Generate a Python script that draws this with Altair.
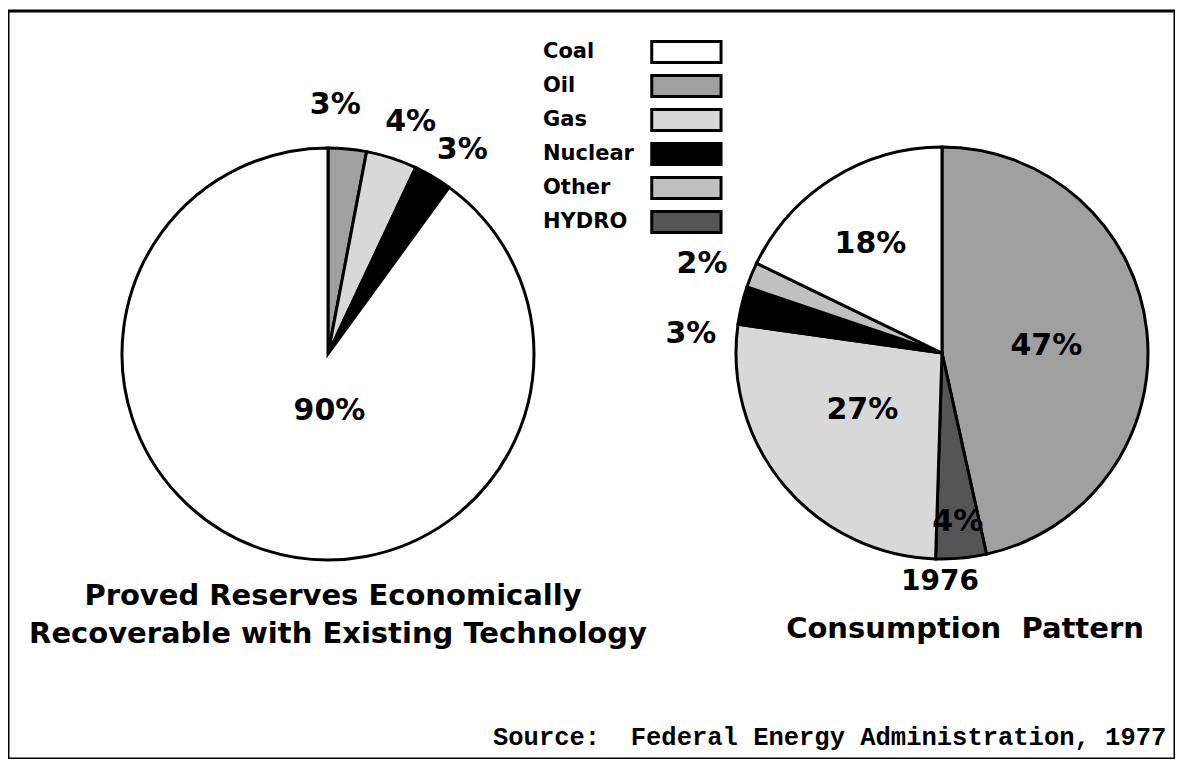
import altair as alt
import pandas as pd

# ---------------- data ----------------
categories = ["Coal", "Oil", "Gas", "Nuclear", "Other", "HYDRO"]
fill_colors = ["#ffffff", "#a0a0a0", "#d8d8d8", "#000000", "#c0c0c0", "#555555"]

reserves_sources = ["Oil", "Gas", "Nuclear", "Coal"]
reserves_pct = [3, 4, 3, 90]

consumption_sources = ["Oil", "HYDRO", "Gas", "Nuclear", "Other", "Coal"]
consumption_pct = [47, 4, 27, 3, 2, 18]

NB = "\u00a0"
left_title = ["Proved Reserves Economically", "Recoverable with Existing Technology"]
right_title = ["1976", "Consumption" + NB + NB + "Pattern"]
source_note = "Source:" + NB + NB + "Federal Energy Administration, 1977"

# ---------------- layout constants ----------------
W, H = 1167, 748
R = 206
LEFT_C = (320, 343)
RIGHT_C = (934, 342)
SANS = "DejaVu Sans"

left_df = pd.DataFrame({"source": reserves_sources, "pct": reserves_pct,
                        "ord": list(range(len(reserves_pct)))})
right_df = pd.DataFrame({"source": consumption_sources, "pct": consumption_pct,
                         "ord": list(range(len(consumption_pct)))})

legend = alt.Legend(
    orient="none", legendX=511, legendY=29, title=None,
    symbolType="M11.5,-1H18.1V1H11.5Z", symbolSize=441,
    symbolOffset=0, labelOffset=0,
    symbolStrokeColor="black", symbolStrokeWidth=3,
    labelFont=SANS, labelFontWeight="bold", labelFontSize=21, labelColor="black",
    labelLimit=300, rowPadding=0, padding=0,
)
color = alt.Color("source:N", scale=alt.Scale(domain=categories, range=fill_colors),
                  legend=legend)


def pie(df, center, label_rules):
    base = alt.Chart(df).encode(
        theta=alt.Theta("pct:Q", stack="normalize"),
        order=alt.Order("ord:Q"),
        x=alt.value(center[0]),
        y=alt.value(center[1]),
    )
    layers = [base.mark_arc(radius=R, stroke="black", strokeWidth=3).encode(color=color)]
    for src, rad, dx, dy in label_rules:
        layers.append(
            base.transform_calculate(t=f"datum.source == '{src}' ? datum.pct + '%' : ''")
            .mark_text(radius=rad, dx=dx, dy=dy, font=SANS, fontSize=30, fontWeight="bold",
                       color="black", baseline="middle", align="center")
            .encode(text="t:N")
        )
    return layers


left_layers = pie(left_df, LEFT_C, [("Oil", 248, -16, -2),
                                    ("Gas", 248, 6, 4),
                                    ("Nuclear", 248, 8, 9),
                                    ("Coal", 60, 20, 0)])
right_layers = pie(right_df, RIGHT_C, [("Oil", 112, -7, 5),
                                       ("Coal", 112, -12, -14),
                                       ("Gas", 112, 6, -15),
                                       ("HYDRO", 170, 0, 0),
                                       ("Nuclear", 255, -3, 40),
                                       ("Other", 255, -4, 8)])

one = pd.DataFrame({"k": [0]})


def note(text, x, y, size, font=SANS, weight="bold", align="center"):
    return alt.Chart(one).mark_text(
        font=font, fontSize=size, fontWeight=weight, color="black",
        align=align, baseline="middle"
    ).encode(x=alt.value(x), y=alt.value(y), text=alt.value(text))


notes = [
    note(left_title[0], 325, 585, 29),
    note(left_title[1], 330, 623, 29),
    note(right_title[0], 932, 571, 28),
    note(right_title[1], 957, 618, 29),
    note(source_note, 485, 726, 25.5, font="Liberation Mono", weight="bold", align="left"),
]

chart = alt.layer(*left_layers, *right_layers, *notes).properties(
    width=W, height=H,
    padding={"left": 0, "top": 3, "right": 0, "bottom": 0},
    autosize=alt.AutoSizeParams(type="none"),
    background="white",
).configure_view(stroke="black", strokeWidth=3)

chart.save("out.html", embed_options={"renderer": "svg", "actions": False})
